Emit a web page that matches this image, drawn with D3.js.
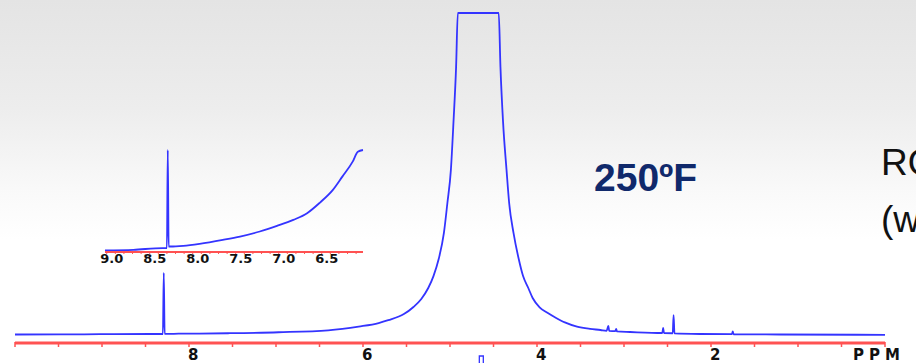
<!DOCTYPE html>
<html>
<head>
<meta charset="utf-8">
<script src="https://cdn.jsdelivr.net/npm/d3@7"></script>
<style>
  html, body { margin: 0; padding: 0; background: #fff; overflow: hidden; }
  svg { display: block; }
</style>
</head>
<body>
<div id="chart"></div>
<script>
// main spectrum (ppm, relative intensity; 100 = clipped top)
const mainPpm = [10.0, 9.48, 9.02, 8.45, 8.30, 8.29, 8.28, 8.12, 7.55, 6.97, 6.40, 6.05, 5.82, 5.71,
  5.53, 5.42, 5.33, 5.25, 5.19, 5.13, 5.07, 5.03, 4.99, 4.96, 4.93, 4.91,
  4.44, 4.42, 4.39, 4.35, 4.32, 4.27, 4.21, 4.16, 4.10, 4.05, 3.97, 3.88, 3.78, 3.68, 3.54,
  3.39, 3.27, 3.20, 3.18, 3.17, 3.10, 3.09, 3.08, 2.93, 2.56, 2.55, 2.54, 2.44, 2.43, 2.42,
  2.13, 1.76, 1.75, 1.74, 1.21, 0.0];
const mainInt = [0.16, 0.19, 0.25, 0.31, 0.31, 19.3, 0.35, 0.4, 0.55, 0.85, 1.45, 2.6, 3.7, 4.6,
  6.5, 8.7, 11.2, 14.6, 18.3, 23.6, 31.7, 41.0, 51.2, 66.1, 83.2, 100,
  100, 83.2, 66.1, 51.2, 41.0, 31.7, 23.6, 18.3, 14.6, 11.5, 8.6, 6.9, 5.3, 3.9, 2.6,
  1.9, 1.55, 1.3, 2.8, 1.3, 1.2, 1.86, 1.1, 0.93, 0.62, 2.17, 0.6, 0.55, 6.2, 0.5,
  0.31, 0.25, 1.1, 0.22, 0.16, 0.06];

// expanded inset 9.0 - 6.0 ppm (relative intensity; 100 = clipped top)
const insetPpm = [9.02, 8.69, 8.35, 8.30, 8.29, 8.28, 8.26, 8.11, 7.92, 7.65, 7.45, 7.22, 7.02,
  6.83, 6.67, 6.52, 6.37, 6.26, 6.14, 6.08, 6.02];
const insetInt = [0, 0.7, 2.4, 2.4, 100, 4.0, 4.0, 4.7, 6.7, 10.6, 13.9, 18.9, 24.5,
  30.5, 37.1, 47.7, 60.3, 73.5, 88.4, 98.3, 100];

const mainTicks = d3.range(0, 10.01, 0.5);
const mainLabels = [8, 6, 4, 2];
const insetLabels = [9.0, 8.5, 8.0, 7.5, 7.0, 6.5];
const peakMarker = [4.64];

const W = 916, H = 363;
const blue = "#3434ff", red = "#ff5252";

const svg = d3.select("#chart").append("svg")
  .attr("width", W).attr("height", H);

// background: pale grey at top fading to white
const grad = svg.append("defs").append("linearGradient")
  .attr("id", "bg").attr("x1", 0).attr("y1", 0).attr("x2", 0).attr("y2", 1);
grad.append("stop").attr("offset", "0%").attr("stop-color", "#e4e4e4");
grad.append("stop").attr("offset", "30%").attr("stop-color", "#ededed");
grad.append("stop").attr("offset", "52%").attr("stop-color", "#f9f9f9");
grad.append("stop").attr("offset", "66%").attr("stop-color", "#ffffff");
svg.append("rect").attr("width", W).attr("height", H).attr("fill", "url(#bg)");

// ---- main spectrum ----
const x = d3.scaleLinear().domain([10, 0]).range([15, 885]);
const y = d3.scaleLinear().domain([0, 100]).range([335, 13]);
const axisY = 343;

const mainData = mainPpm.map((p, i) => ({ppm: p, v: mainInt[i]}));

const line = d3.line()
  .x(d => x(d.ppm))
  .y(d => y(d.v))
  .curve(d3.curveMonotoneX);

svg.append("path")
  .datum(mainData)
  .attr("fill", "none")
  .attr("stroke", blue)
  .attr("stroke-width", 1.8)
  .attr("stroke-linejoin", "round")
  .attr("d", line);

// main axis
svg.append("line")
  .attr("x1", x(10)).attr("x2", x(0))
  .attr("y1", axisY).attr("y2", axisY)
  .attr("stroke", red).attr("stroke-width", 3);

svg.selectAll(".mtick")
  .data(mainTicks)
  .enter().append("line")
  .attr("class", "mtick")
  .attr("x1", d => x(d)).attr("x2", d => x(d))
  .attr("y1", axisY - 1).attr("y2", axisY + 4)
  .attr("stroke", red).attr("stroke-width", 1.5);

svg.selectAll(".mlab")
  .data(mainLabels)
  .enter().append("text")
  .attr("class", "mlab")
  .attr("x", d => x(d) - 1)
  .attr("y", 360)
  .attr("font-family", "DejaVu Sans, sans-serif")
  .attr("font-weight", "bold")
  .attr("font-size", 15)
  .attr("fill", "#111")
  .text(d => d);

svg.append("text")
  .attr("x", 853).attr("y", 360)
  .attr("font-family", "DejaVu Sans, sans-serif")
  .attr("font-weight", "bold")
  .attr("font-size", 15)
  .attr("letter-spacing", 5)
  .attr("fill", "#111")
  .text("PPM");

// small peak marker under the axis
svg.selectAll(".marker")
  .data(peakMarker)
  .enter().append("path")
  .attr("class", "marker")
  .attr("d", d => `M${x(d) - 2},${H} V356 H${x(d) + 2} V${H}`)
  .attr("fill", "none")
  .attr("stroke", blue)
  .attr("stroke-width", 1.3);

// ---- inset ----
const xi = d3.scaleLinear().domain([9.02, 6.02]).range([105, 363]);
const yi = d3.scaleLinear().domain([0, 100]).range([250.5, 150]);
const insetAxisY = 252;

const insetData = insetPpm.map((p, i) => ({ppm: p, v: insetInt[i]}));

svg.append("path")
  .datum(insetData)
  .attr("fill", "none")
  .attr("stroke", blue)
  .attr("stroke-width", 1.8)
  .attr("stroke-linejoin", "round")
  .attr("d", d3.line().x(d => xi(d.ppm)).y(d => yi(d.v)).curve(d3.curveMonotoneX));

svg.append("line")
  .attr("x1", xi(9.02)).attr("x2", xi(6.02))
  .attr("y1", insetAxisY).attr("y2", insetAxisY)
  .attr("stroke", red).attr("stroke-width", 2);

svg.selectAll(".itick")
  .data(d3.range(6.1, 9.01, 0.1))
  .enter().append("line")
  .attr("class", "itick")
  .attr("x1", d => xi(d)).attr("x2", d => xi(d))
  .attr("y1", insetAxisY - 1).attr("y2", insetAxisY + 2)
  .attr("stroke", red).attr("stroke-width", 1);

svg.selectAll(".ilab")
  .data(insetLabels)
  .enter().append("text")
  .attr("class", "ilab")
  .attr("x", d => xi(d) + 5)
  .attr("y", 263)
  .attr("text-anchor", "middle")
  .attr("font-family", "DejaVu Sans, sans-serif")
  .attr("font-weight", "bold")
  .attr("font-size", 13)
  .attr("fill", "#111")
  .text(d => d.toFixed(1));

// ---- annotations ----
svg.append("text")
  .attr("x", 594).attr("y", 191)
  .attr("font-family", "Liberation Sans, Arial, sans-serif")
  .attr("font-weight", "bold")
  .attr("font-size", 39)
  .attr("fill", "#10296b")
  .text("250ºF");

const side = svg.append("text")
  .attr("font-family", "Liberation Sans, Arial, sans-serif")
  .attr("font-size", 37)
  .attr("fill", "#111");
side.append("tspan").attr("x", 881).attr("y", 175).text("RO");
side.append("tspan").attr("x", 881).attr("y", 232).text("(w");
</script>
</body>
</html>
